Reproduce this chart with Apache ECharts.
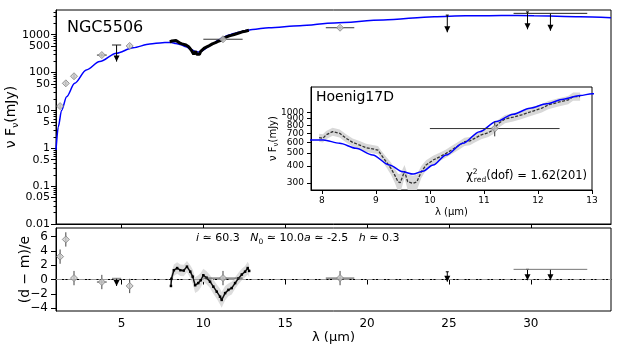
<!DOCTYPE html>
<html>
<head>
<meta charset="utf-8">
<script src="https://cdn.jsdelivr.net/npm/echarts@6/dist/echarts.min.js"></script>
<style>html,body{margin:0;padding:0;background:#fff}#chart{width:623px;height:346px}</style>
</head>
<body>
<div id="chart"></div>
<script>
// photometry, mJy
const photX = [1.25, 1.6, 2.1, 3.8, 5.5, 11.2, 18.35];
const photY = [13, 52, 80, 290, 505, 760, 1530];
const photXErr = [0, 0, 0, 0.3, 0, 1.2, 0.87];
const photYErr = [1.5, 6, 10, 30, 50, 95, 150];

// upper limits, mJy
const ulX = [4.7, 24.9, 29.8, 31.2];
const ulTop = [535, 3300, 4000, 3670];
const ulTip = [195, 1160, 1390, 1275];
const ulXErr = [0.28, 0, 0, 2.25];

// N-band spectrum
const specX = [7.95, 8.02, 8.08, 8.2, 8.33, 8.45, 8.57, 8.7, 8.82, 8.94, 9.04, 9.1, 9.19, 9.28, 9.35, 9.41, 9.45, 9.49, 9.53, 9.59, 9.69, 9.76, 9.84, 9.93, 10.06, 10.18, 10.3, 10.4, 10.55, 10.64, 10.74, 10.83, 10.95, 11.08, 11.17, 11.27, 11.39, 11.54, 11.7, 11.88, 12.07, 12.19, 12.38, 12.56, 12.65, 12.78];
const specY = [650, 643, 682, 721, 700, 643, 600, 573, 547, 536, 526, 483, 431, 384, 342, 305, 300, 330, 366, 305, 297, 305, 362, 407, 443, 468, 497, 526, 573, 607, 615, 643, 682, 708, 742, 830, 897, 923, 961, 1017, 1077, 1140, 1195, 1241, 1316, 1316];
const specErr = [45, 45, 48, 50, 49, 45, 42, 40, 38, 38, 37, 36, 38, 40, 42, 45, 48, 45, 40, 40, 42, 40, 38, 34, 33, 33, 34, 37, 40, 43, 43, 45, 48, 50, 52, 58, 63, 65, 67, 71, 75, 80, 84, 87, 92, 92];

// model SED
const modelX = [1.0, 1.14, 1.34, 1.65, 2.14, 2.85, 3.67, 4.69, 5.71, 6.73, 7.5, 7.8, 8.03, 8.33, 8.63, 8.94, 9.25, 9.5, 9.69, 9.87, 10.06, 10.3, 10.61, 10.92, 11.23, 11.54, 11.85, 12.16, 12.47, 12.78, 13.0, 14.0, 15.9, 18.0, 21.0, 24.1, 26.0, 28.2, 30.2, 33.0, 34.9];
const modelY = [0.9, 3.7, 10, 23, 52, 117, 195, 325, 454, 569, 615, 625, 625, 590, 542, 483, 407, 362, 348, 366, 407, 483, 590, 721, 857, 972, 1077, 1161, 1258, 1340, 1380, 1530, 1720, 2050, 2450, 2990, 3150, 3240, 3180, 3000, 2820];

// residuals (d - m)/e
const resY = [3.2, 5.6, 0.2, -0.35, -0.9, 0.2, 0.2];
const resErr = [1, 1, 1, 1, 1, 1, 1];
const resUlTop = [0.17, 1.08, 1.42, 1.42];
const resUlTip = [-0.9, -0.3, -0.1, -0.1];
const resSpecX = [8.02, 8.05, 8.2, 8.4, 8.6, 8.8, 9.0, 9.2, 9.35, 9.5, 9.69, 9.84, 10.0, 10.2, 10.41, 10.61, 10.82, 11.02, 11.12, 11.33, 11.53, 11.73, 11.94, 12.14, 12.35, 12.55, 12.71, 12.8];
const resSpecY = [-0.9, 0.1, 1.3, 1.6, 1.3, 1.25, 1.8, 1.1, 0.4, -0.8, -0.5, -0.1, 0.6, 0.25, -0.3, -1.0, -1.7, -2.4, -2.85, -1.9, -1.45, -1.2, -0.5, 0.15, 0.7, 1.1, 1.6, 1.2];
const resSpecErr = [0.8, 0.8, 0.8, 0.8, 0.8, 0.8, 0.8, 0.9, 1.0, 1.1, 1.1, 1.0, 0.9, 0.9, 0.9, 1.0, 1.0, 1.1, 1.1, 1.0, 0.9, 0.9, 0.8, 0.8, 0.8, 0.8, 0.9, 0.9];

// ticks
const xTicks = [5, 10, 15, 20, 25, 30];
const mainYTicks = [0.01, 0.05, 0.1, 0.5, 1, 5, 10, 50, 100, 500, 1000];
const mainYMinor = [0.01, 0.1, 1, 10, 100, 1000].flatMap(d => [2, 3, 4, 6, 7, 8, 9].map(m => +(m * d).toPrecision(3)));
const resYTicks = [-4, -2, 0, 2, 4, 6];
const insetXTicks = [8, 9, 10, 11, 12, 13];
const insetYTicks = [300, 400, 500, 600, 700, 800, 900, 1000];

const FONT = 'DejaVu Sans';
const chart = echarts.init(document.getElementById('chart'));

function errBars(color) {
  return function (params, api) {
    const x = api.value(0), y = api.value(1), xe = api.value(2), ye = api.value(3);
    const kids = [];
    if (ye) {
      const a = api.coord([x, y - ye]), b = api.coord([x, y + ye]);
      kids.push({ type: 'line', shape: { x1: a[0], y1: a[1], x2: b[0], y2: b[1] }, style: { stroke: color, lineWidth: 1 } });
    }
    if (xe) {
      const a = api.coord([x - xe, y]), b = api.coord([x + xe, y]);
      kids.push({ type: 'line', shape: { x1: a[0], y1: a[1], x2: b[0], y2: b[1] }, style: { stroke: color, lineWidth: 1 } });
    }
    return { type: 'group', children: kids };
  };
}

function upperLimits(lineColor) {
  return function (params, api) {
    const x = api.value(0), top = api.value(1), tip = api.value(2), xe = api.value(3);
    const t = api.coord([x, top]), b = api.coord([x, tip]);
    const kids = [
      { type: 'line', shape: { x1: t[0], y1: t[1], x2: b[0], y2: b[1] }, style: { stroke: '#000', lineWidth: 1 } },
      { type: 'polygon', shape: { points: [[b[0] - 3, b[1] - 6], [b[0] + 3, b[1] - 6], [b[0], b[1]]] }, style: { fill: '#000' } }
    ];
    if (xe) {
      const l = api.coord([x - xe, top]), r = api.coord([x + xe, top]);
      kids.push({ type: 'line', shape: { x1: l[0], y1: l[1], x2: r[0], y2: r[1] }, style: { stroke: lineColor, lineWidth: 1 } });
    } else {
      kids.push({ type: 'line', shape: { x1: t[0] - 1.5, y1: t[1], x2: t[0] + 1.5, y2: t[1] }, style: { stroke: '#000', lineWidth: 1 } });
    }
    return { type: 'group', children: kids };
  };
}

function band(xs, ys, es, color) {
  return function (params, api) {
    if (params.dataIndex !== 0) return null;
    const up = xs.map((x, i) => api.coord([x, ys[i] + es[i]]));
    const lo = xs.map((x, i) => api.coord([x, ys[i] - es[i]])).reverse();
    return { type: 'polygon', shape: { points: up.concat(lo) }, style: { fill: color } };
  };
}

const subRich = {
  a: { fontFamily: FONT, fontSize: 14, lineHeight: 18, color: '#000' },
  b: { fontFamily: FONT, fontSize: 9, verticalAlign: 'bottom', color: '#000' }
};
const subRichSmall = {
  a: { fontFamily: FONT, fontSize: 10, lineHeight: 13, color: '#000' },
  b: { fontFamily: FONT, fontSize: 7, verticalAlign: 'bottom', color: '#000' }
};

const photData = photX.map((x, i) => [x, photY[i], photXErr[i], photYErr[i]]);
const ulData = ulX.map((x, i) => [x, ulTop[i], ulTip[i], ulXErr[i]]);
const resData = photX.map((x, i) => [x, resY[i], photXErr[i], resErr[i]]);
const resUlData = ulX.map((x, i) => [x, resUlTop[i], resUlTip[i], ulXErr[i]]);
const diamond = { symbol: 'diamond', symbolSize: 7, itemStyle: { color: '#cccccc', borderColor: '#808080', borderWidth: 1 } };
const gridBase = { show: true, borderColor: '#000', borderWidth: 1, containLabel: false, outerBoundsMode: 'none' };

// the inset labels are packed tight, so odd and even ticks go on two stacked axes
const insetYA = insetYTicks.filter((v, i) => i % 2 === 0);
const insetYB = insetYTicks.filter((v, i) => i % 2 === 1);
function insetYAxis(ticks, withName) {
  const ax = {
    gridIndex: 2, type: 'log', min: 265, max: 1550, position: 'left',
    axisLine: { show: withName, lineStyle: { color: '#000' } },
    axisTick: { show: true, inside: false, length: 4, customValues: ticks, lineStyle: { color: '#000' } },
    axisLabel: { customValues: ticks, fontSize: 9, color: '#000', margin: 7, fontFamily: FONT, hideOverlap: false, interval: 0, formatter: v => String(v) },
    splitLine: { show: false }
  };
  if (withName) {
    Object.assign(ax, {
      name: '{a|ν F}{b|ν}{a|(mJy)}', nameLocation: 'middle', nameRotate: 90, nameGap: 31, nameMoveOverlap: false,
      nameTextStyle: { fontFamily: FONT, fontSize: 10, color: '#000', rich: subRichSmall }
    });
  }
  return ax;
}

const option = {
  animation: false,
  backgroundColor: '#fff',
  textStyle: { fontFamily: FONT },
  title: [
    { text: 'NGC5506', left: 67, top: 20, padding: 0, textStyle: { fontFamily: FONT, fontSize: 16, fontWeight: 'normal', color: '#000' } },
    { text: 'Hoenig17D', left: 316, top: 90, padding: 0, textStyle: { fontFamily: FONT, fontSize: 14, fontWeight: 'normal', color: '#000' } },
    {
      text: '{t|χ}{sp|2}{sb|red}{t|(dof) = 1.62(201)}', right: 36, top: 168, padding: 0,
      textStyle: {
        fontFamily: FONT, fontSize: 11, fontWeight: 'normal', color: '#000',
        rich: {
          t: { fontFamily: FONT, fontSize: 11.5, lineHeight: 16, color: '#000' },
          sp: { fontFamily: FONT, fontSize: 7.5, verticalAlign: 'top', width: 1, color: '#000' },
          sb: { fontFamily: FONT, fontSize: 7.5, verticalAlign: 'bottom', color: '#000' }
        }
      }
    },
    {
      text: '{it|i} ≃ 60.3   {it|N}{sb|0} ≃ 10.0{it|a} ≃ -2.5   {it|h} ≃ 0.3', left: 196, top: 231, padding: 0,
      textStyle: {
        fontFamily: FONT, fontSize: 11, fontWeight: 'normal', color: '#000',
        rich: {
          it: { fontFamily: FONT, fontSize: 11, fontStyle: 'italic', lineHeight: 15, color: '#000' },
          sb: { fontFamily: FONT, fontSize: 7.5, verticalAlign: 'bottom', color: '#000' }
        }
      }
    }
  ],
  grid: [
    Object.assign({ left: 56, top: 10, width: 555, height: 214 }, gridBase),
    Object.assign({ left: 56, top: 228, width: 555, height: 83 }, gridBase),
    Object.assign({ left: 311, top: 87, width: 281, height: 103, backgroundColor: '#fff' }, gridBase)
  ],
  xAxis: [
    {
      gridIndex: 0, type: 'value', min: 1.0, max: 34.9,
      axisLine: { lineStyle: { color: '#000' } },
      axisTick: { inside: false, length: 4, customValues: xTicks, lineStyle: { color: '#000' } },
      axisLabel: { show: false }, splitLine: { show: false }
    },
    {
      gridIndex: 1, type: 'value', min: 1.0, max: 34.9,
      axisLine: { lineStyle: { color: '#000' } },
      axisTick: { inside: false, length: 5, customValues: xTicks, lineStyle: { color: '#000' } },
      axisLabel: { customValues: xTicks, fontSize: 12, color: '#000', margin: 7, fontFamily: FONT, hideOverlap: false },
      splitLine: { show: false },
      name: 'λ (μm)', nameLocation: 'middle', nameGap: 20, nameMoveOverlap: false,
      nameTextStyle: { fontFamily: FONT, fontSize: 13, color: '#000' }
    },
    {
      gridIndex: 2, type: 'value', min: 7.8, max: 13,
      axisLine: { lineStyle: { color: '#000' } },
      axisTick: { inside: false, length: 4, customValues: insetXTicks, lineStyle: { color: '#000' } },
      axisLabel: { customValues: insetXTicks, fontSize: 9, color: '#000', margin: 6, fontFamily: FONT, hideOverlap: false },
      splitLine: { show: false },
      name: 'λ (μm)', nameLocation: 'middle', nameGap: 17, nameMoveOverlap: false,
      nameTextStyle: { fontFamily: FONT, fontSize: 10, color: '#000' }
    }
  ],
  yAxis: [
    {
      gridIndex: 0, type: 'log', min: 0.01, max: 4500, position: 'left',
      axisLine: { show: true, lineStyle: { color: '#000' } },
      axisTick: { show: true, inside: false, length: 5, customValues: mainYTicks, lineStyle: { color: '#000' } },
      axisLabel: { customValues: mainYTicks, fontSize: 11, lineHeight: 8, color: '#000', margin: 6, fontFamily: FONT, formatter: v => String(v), hideOverlap: false, interval: 0 },
      splitLine: { show: false },
      name: '{a|ν F}{b|ν}{a|(mJy)}', nameLocation: 'middle', nameRotate: 90, nameGap: 36, nameMoveOverlap: false,
      nameTextStyle: { fontFamily: FONT, fontSize: 14, color: '#000', rich: subRich }
    },
    {
      gridIndex: 0, type: 'log', min: 0.01, max: 4500, position: 'left',
      axisLine: { show: false },
      axisTick: { show: true, inside: false, length: 2.5, customValues: mainYMinor, lineStyle: { color: '#000' } },
      axisLabel: { show: false }, splitLine: { show: false }
    },
    {
      gridIndex: 1, type: 'value', min: -4.4, max: 7.2,
      axisLine: { show: true, lineStyle: { color: '#000' } },
      axisTick: { show: true, inside: false, length: 5, customValues: resYTicks, lineStyle: { color: '#000' } },
      axisLabel: { customValues: resYTicks, fontSize: 12, color: '#000', margin: 8, fontFamily: FONT, formatter: v => String(v).replace('-', '\u2212'), hideOverlap: false },
      splitLine: { show: false },
      name: '(d \u2212 m)/e', nameLocation: 'middle', nameRotate: 90, nameGap: 24, nameMoveOverlap: false,
      nameTextStyle: { fontFamily: FONT, fontSize: 14, color: '#000' }
    },
    insetYAxis(insetYA, true),
    insetYAxis(insetYB, false)
  ],
  series: [
    // main panel
    {
      type: 'line', xAxisIndex: 0, yAxisIndex: 0, data: modelX.map((x, i) => [x, modelY[i]]),
      showSymbol: false, smooth: 0.3, smoothMonotone: 'x', lineStyle: { color: '#0000ff', width: 1.5 }, z: 3
    },
    {
      type: 'line', xAxisIndex: 0, yAxisIndex: 0, data: specX.map((x, i) => [x, specY[i]]),
      showSymbol: false, lineStyle: { color: '#000', width: 3 }, z: 4
    },
    { type: 'custom', xAxisIndex: 0, yAxisIndex: 0, data: photData, renderItem: errBars('#333'), z: 5 },
    Object.assign({ type: 'scatter', xAxisIndex: 0, yAxisIndex: 0, data: photData.map(d => [d[0], d[1]]), z: 6 }, diamond),
    { type: 'custom', xAxisIndex: 0, yAxisIndex: 0, data: ulData, renderItem: upperLimits('#222'), z: 5 },

    // inset
    { type: 'custom', xAxisIndex: 2, yAxisIndex: 3, data: specX.map(x => [x]), renderItem: band(specX, specY, specErr, '#d8d8d8'), clip: true, z: 2 },
    {
      type: 'line', xAxisIndex: 2, yAxisIndex: 3, data: specX.map((x, i) => [x, specY[i]]),
      showSymbol: false, lineStyle: { color: '#333', width: 1.3, type: [3, 1.5] }, z: 3
    },
    {
      type: 'line', xAxisIndex: 2, yAxisIndex: 3, data: modelX.map((x, i) => [x, modelY[i]]),
      showSymbol: false, smooth: 0.3, smoothMonotone: 'x', lineStyle: { color: '#0000ff', width: 1.5 }, clip: true, z: 4
    },
    { type: 'custom', xAxisIndex: 2, yAxisIndex: 3, data: [photData[5]], renderItem: errBars('#333'), clip: true, z: 5 },
    Object.assign({ type: 'scatter', xAxisIndex: 2, yAxisIndex: 3, data: [[photX[5], photY[5]]], z: 6 }, diamond),

    // residuals
    {
      type: 'line', xAxisIndex: 1, yAxisIndex: 2, data: [[1.0, 0], [34.9, 0]], showSymbol: false,
      lineStyle: { color: '#999', width: 1.2, type: [6, 2, 1.5, 2] }, z: 2
    },
    { type: 'custom', xAxisIndex: 1, yAxisIndex: 2, data: resSpecX.map(x => [x]), renderItem: band(resSpecX, resSpecY, resSpecErr, '#dddddd'), z: 2 },
    {
      type: 'line', xAxisIndex: 1, yAxisIndex: 2, data: resSpecX.map((x, i) => [x, resSpecY[i]]),
      symbol: 'rect', symbolSize: 2.5, itemStyle: { color: '#000' }, lineStyle: { color: '#111', width: 1.5 }, z: 3
    },
    { type: 'custom', xAxisIndex: 1, yAxisIndex: 2, data: resData, renderItem: errBars('#444'), z: 4 },
    Object.assign({ type: 'scatter', xAxisIndex: 1, yAxisIndex: 2, data: resData.map(d => [d[0], d[1]]), z: 5 }, diamond),
    { type: 'custom', xAxisIndex: 1, yAxisIndex: 2, data: resUlData, renderItem: upperLimits('#777'), z: 4 }
  ]
};
chart.setOption(option);
</script>
</body>
</html>
